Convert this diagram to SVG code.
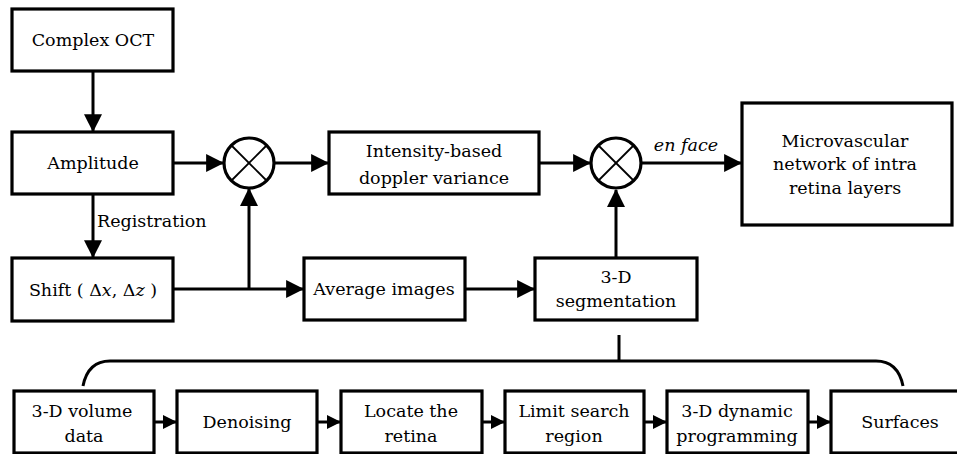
<svg xmlns="http://www.w3.org/2000/svg" width="957" height="454" viewBox="0 0 957 454">
<defs>
<marker id="ah" markerUnits="userSpaceOnUse" markerWidth="18" markerHeight="18" viewBox="0 0 16 16" refX="15" refY="8" orient="auto">
<path d="M0,0 L16,8 L0,16 Z" fill="#000"/>
</marker>
<marker id="ahs" markerUnits="userSpaceOnUse" markerWidth="14" markerHeight="14" viewBox="0 0 14 14" refX="13" refY="7" orient="auto">
<path d="M0,0 L14,7 L0,14 Z" fill="#000"/>
</marker>
</defs>
<style>
.box{fill:#fff;stroke:#000;stroke-width:3.2}
.ln{fill:none;stroke:#000;stroke-width:3}
text{font-family:"DejaVu Serif","Liberation Serif",serif;font-size:17.5px;fill:#000;text-anchor:middle}
.it{font-style:italic}
.x{fill:#fff;stroke:#000;stroke-width:3.2}
.xl{stroke:#000;stroke-width:1.8}
</style>
<rect width="957" height="454" fill="#fff"/>
<g id="connectors">
<line class="ln" x1="93" y1="71" x2="93" y2="131" marker-end="url(#ah)"/>
<line class="ln" x1="93" y1="194" x2="93" y2="257" marker-end="url(#ah)"/>
<line class="ln" x1="173" y1="163" x2="223" y2="163" marker-end="url(#ah)"/>
<line class="ln" x1="275" y1="163" x2="328" y2="163" marker-end="url(#ah)"/>
<line class="ln" x1="539" y1="163" x2="590" y2="163" marker-end="url(#ah)"/>
<line class="ln" x1="642" y1="163" x2="741" y2="163" marker-end="url(#ah)"/>
<line class="ln" x1="173" y1="289" x2="303" y2="289" marker-end="url(#ah)"/>
<line class="ln" x1="249" y1="289" x2="249" y2="189" marker-end="url(#ah)"/>
<line class="ln" x1="465" y1="289" x2="534" y2="289" marker-end="url(#ah)"/>
<line class="ln" x1="616" y1="258" x2="616" y2="190" marker-end="url(#ah)"/>
<path class="ln" d="M83,386 Q88,361 110,361 H876 Q898,361 903,386"/>
<line class="ln" x1="619" y1="335" x2="619" y2="361"/>
<line class="ln" x1="154" y1="422" x2="176" y2="422" marker-end="url(#ahs)"/>
<line class="ln" x1="317" y1="422" x2="340" y2="422" marker-end="url(#ahs)"/>
<line class="ln" x1="482" y1="422" x2="504" y2="422" marker-end="url(#ahs)"/>
<line class="ln" x1="644" y1="422" x2="666" y2="422" marker-end="url(#ahs)"/>
<line class="ln" x1="808" y1="422" x2="830" y2="422" marker-end="url(#ahs)"/>
<text x="97" y="227" style="text-anchor:start">Registration</text>
<text class="it" x="686" y="151">en face</text>
</g>
<g id="complex-oct"><rect class="box" x="12" y="9" width="161" height="62"/><text x="93" y="46">Complex OCT</text></g>
<g id="amplitude"><rect class="box" x="12" y="132" width="161" height="62"/><text x="93" y="169">Amplitude</text></g>
<g id="shift"><rect class="box" x="12" y="258" width="161" height="63"/><text x="93" y="296">Shift ( Δ<tspan class="it">x</tspan>, Δ<tspan class="it">z</tspan> )</text></g>
<g id="mult1"><circle class="x" cx="249" cy="163" r="25"/><line class="xl" x1="231" y1="145" x2="267" y2="181"/><line class="xl" x1="267" y1="145" x2="231" y2="181"/></g>
<g id="intensity"><rect class="box" x="329" y="132" width="210" height="62"/><text x="434" y="157">Intensity-based</text><text x="434" y="184">doppler variance</text></g>
<g id="mult2"><circle class="x" cx="616" cy="163" r="25"/><line class="xl" x1="598" y1="145" x2="634" y2="181"/><line class="xl" x1="634" y1="145" x2="598" y2="181"/></g>
<g id="microvascular"><rect class="box" x="742" y="103" width="210" height="122"/><text x="845" y="147">Microvascular</text><text x="845" y="170">network of intra</text><text x="845" y="194">retina layers</text></g>
<g id="average"><rect class="box" x="304" y="258" width="161" height="62"/><text x="384" y="295">Average images</text></g>
<g id="segmentation"><rect class="box" x="535" y="258" width="162" height="62"/><text x="616" y="283">3-D</text><text x="616" y="307">segmentation</text></g>
<g id="volume"><rect class="box" x="14" y="391" width="140" height="62"/><text x="82" y="417">3-D volume</text><text x="84" y="442">data</text></g>
<g id="denoising"><rect class="box" x="177" y="391" width="140" height="62"/><text x="247" y="428">Denoising</text></g>
<g id="locate"><rect class="box" x="341" y="391" width="141" height="62"/><text x="411" y="417">Locate the</text><text x="411" y="442">retina</text></g>
<g id="limit"><rect class="box" x="505" y="391" width="139" height="62"/><text x="574" y="417">Limit search</text><text x="574" y="442">region</text></g>
<g id="dynamic"><rect class="box" x="667" y="391" width="141" height="62"/><text x="737" y="417">3-D dynamic</text><text x="737" y="442">programming</text></g>
<g id="surfaces"><rect class="box" x="831" y="391" width="135" height="62"/><text x="900" y="428">Surfaces</text></g>
</svg>
